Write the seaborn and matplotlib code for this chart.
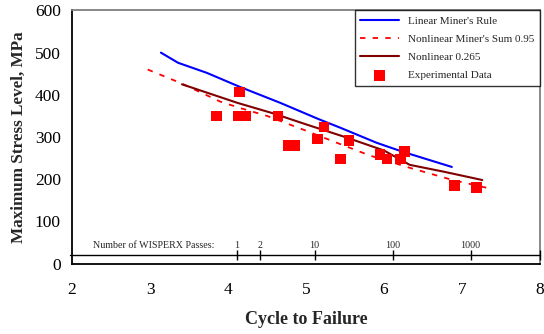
import numpy as np
import pandas as pd
import matplotlib
matplotlib.use("Agg")
import matplotlib.pyplot as plt
import seaborn as sns

# ---- data ----
linear_x = [3.14, 3.36, 3.73, 4.15, 4.67, 5.18, 5.44, 5.91, 6.24, 6.87]
linear_y = [500, 476, 452, 419, 381, 341, 322, 286, 265, 229]

nl095_x = [2.97, 3.38, 3.90, 4.15, 4.50, 5.00, 5.40, 5.82, 6.33, 6.88, 7.33]
nl095_y = [460, 429, 384, 369, 350, 315, 286, 256, 227, 198, 179]

nl0265_x = [3.41, 4.12, 4.58, 5.00, 5.50, 6.00, 6.33, 6.76, 7.26]
nl0265_y = [425, 381, 356, 330, 300, 268, 234, 218, 198]

exp_x = [3.85, 4.15, 4.13, 4.22, 4.64, 4.77, 4.86, 5.15, 5.23, 5.44, 5.55,
         5.95, 6.04, 6.21, 6.26, 6.90, 7.19]
exp_y = [350, 407, 350, 350, 350, 280, 280, 295, 324, 248, 291,
         259, 248, 248, 265, 185, 180]

passes = [1, 2, 10, 100, 1000]
pass_labels = ["1", "2", "10", "100", "1000"]
pass_offset = 4.11  # x position of 1 pass (log10 cycles)

x_ticks = [2, 3, 4, 5, 6, 7, 8]
y_ticks = [0, 100, 200, 300, 400, 500, 600]

# ---- style ----
sns.set_style("white")
plt.rcParams["font.family"] = ["Liberation Serif", "DejaVu Serif"]

fig = plt.figure(figsize=(5.44, 3.34), dpi=100)
ax = fig.add_axes([0.1324, 0.211, 0.9926 - 0.1324, 0.9686 - 0.211])

df_lin = pd.DataFrame({"x": linear_x, "y": linear_y})
df_n95 = pd.DataFrame({"x": nl095_x, "y": nl095_y})
df_n265 = pd.DataFrame({"x": nl0265_x, "y": nl0265_y})
df_exp = pd.DataFrame({"x": exp_x, "y": exp_y})

sns.lineplot(data=df_lin, x="x", y="y", sort=False, estimator=None, ax=ax,
             color="#0000FF", lw=1.5, label="Linear Miner's Rule")
sns.lineplot(data=df_n95, x="x", y="y", sort=False, estimator=None, ax=ax,
             color="#FF0000", lw=1.3, dashes=False, label="Nonlinear Miner's Sum 0.95")
ax.lines[-1].set_linestyle((0, (3, 4)))
sns.lineplot(data=df_n265, x="x", y="y", sort=False, estimator=None, ax=ax,
             color="#800000", lw=1.5, label="Nonlinear 0.265")
sns.scatterplot(data=df_exp, x="x", y="y", ax=ax, marker="s", s=60,
                color="#FF0000", edgecolor="none", linewidth=0,
                label="Experimental Data", zorder=5)

ax.set_xlim(2, 8)
ax.set_ylim(0, 600)
ax.set_xticks(x_ticks)
ax.set_yticks(y_ticks)
ax.tick_params(axis="both", direction="in", length=4, width=1, labelsize=12.5,
               colors="black", pad=8)
ax.tick_params(axis="x", pad=13)

for s in ["left", "bottom"]:
    ax.spines[s].set_color("black")
    ax.spines[s].set_linewidth(1.3)
for s in ["top", "right"]:
    ax.spines[s].set_color("#7f7f7f")
    ax.spines[s].set_linewidth(1.3)

ax.set_xlabel("Cycle to Failure", fontsize=13, fontweight="bold", labelpad=10)
ax.set_ylabel("Maximum Stress Level, MPa", fontsize=12.3, fontweight="bold", labelpad=6)

# secondary passes axis
sec_y = 20
ax.plot([1.97, 8.0], [sec_y, sec_y], color="black", lw=1.0, clip_on=False, zorder=3)
pass_x = [pass_offset + np.log10(p) for p in passes]
ax.plot(pass_x + [8.0], [sec_y] * (len(pass_x) + 1), ls="none", marker="|",
        ms=7, mew=1.0, color="black", clip_on=False, zorder=3)
for px, lab in zip(pass_x, pass_labels):
    ax.text(px, sec_y + 12, lab, ha="center", va="bottom", fontsize=7.2)
ax.text(3.83, sec_y + 12, "Number of WISPERX Passes:", ha="right", va="bottom",
        fontsize=7.2)

leg = ax.legend(loc="upper right", borderaxespad=0, fontsize=8, frameon=True,
                fancybox=False, edgecolor="black", handlelength=3.5,
                labelspacing=0.75, borderpad=0.5, handletextpad=0.8)
leg.get_frame().set_linewidth(1.0)

fig.savefig("out.png", dpi=100)
